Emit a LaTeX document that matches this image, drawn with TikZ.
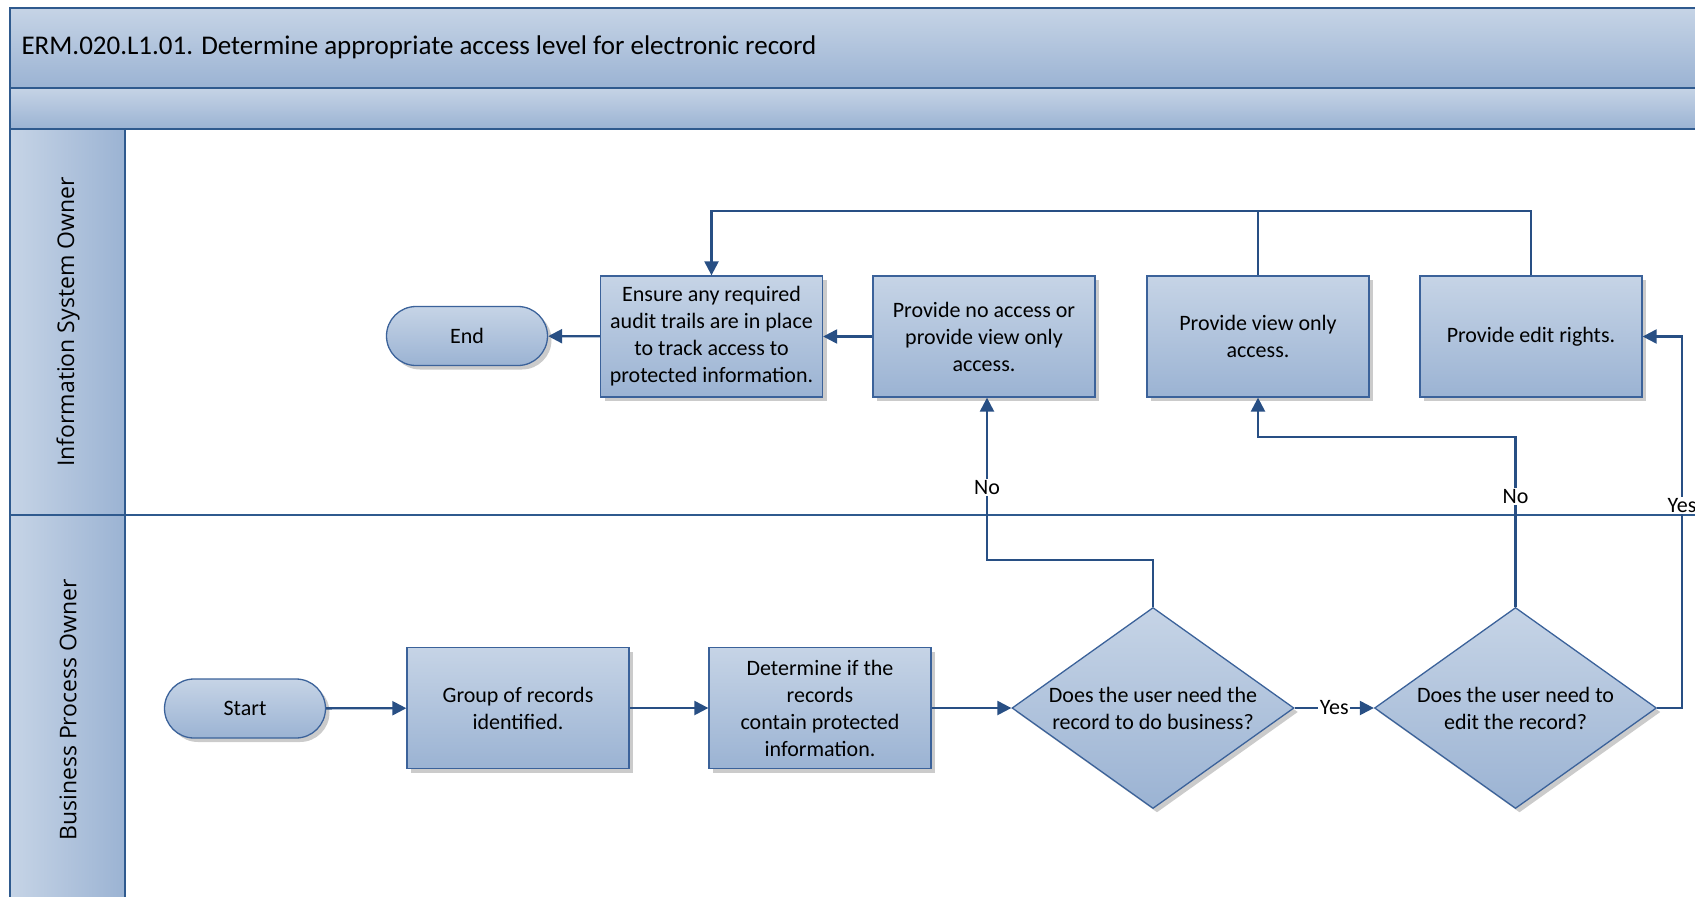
\documentclass[tikz,border=0pt]{standalone}
\usepackage{fontspec}
\setmainfont{Carlito}
\newfontfamily\lanefont{Open Sans}
\usetikzlibrary{arrows.meta,shapes.geometric,shadows}
\definecolor{fillTop}{HTML}{C6D4E6}
\definecolor{fillBot}{HTML}{9BB3D3}
\definecolor{edgeblue}{HTML}{3B629A}
\definecolor{wire}{HTML}{284F84}
\definecolor{frame}{HTML}{2F5A8E}

\begin{document}
\begin{tikzpicture}[x=1pt,y=-1pt,
  shapebase/.style={draw=edgeblue, line width=1.3pt, top color=fillTop, bottom color=fillBot,
    font=\fontsize{22}{27}\selectfont, align=center, inner sep=0pt,
    drop shadow={shadow xshift=4pt, shadow yshift=-4pt, fill=black!45, opacity=0.45}},
  process/.style={shapebase, rectangle, minimum width=222pt, minimum height=121pt},
  terminal/.style={shapebase, rectangle, rounded corners=29.5pt, minimum width=161pt, minimum height=59pt},
  decision/.style={shapebase, diamond, minimum width=282pt, minimum height=201pt},
  flow/.style={draw=wire, line width=2.3pt, -{Triangle[length=14pt,width=14pt]}},
  link/.style={draw=wire, line width=2.3pt},
  tag/.style={fill=white, inner sep=1.5pt, font=\fontsize{22}{24}\selectfont},
  qtext/.style={font=\fontsize{22}{27}\selectfont, align=center},
  band/.style={draw=frame, line width=2pt},
]
\useasboundingbox (0,0) rectangle (1695,897);
\clip (0,0) rectangle (1695,897);

% header bands and lane column
\path[band, top color=fillTop, bottom color=fillBot] (10,7.6) rectangle (1720,87.6);
\path[band, top color=fillTop, bottom color=fillBot] (10,87.6) rectangle (1720,128.6);
\path[band, left color=fillTop, right color=fillBot] (10,128.6) rectangle (125,920);
\draw[band] (10,514.5) -- (1720,514.5);

\node[anchor=west, font=\fontsize{27}{30}\selectfont] (title) at (18,47.6)
  {ERM.020.L1.01. Determine appropriate access level for electronic record};
\node[rotate=90, font=\lanefont\fontsize{23}{28}\selectfont] (lane1) at (68,322) {Information System Owner};
\node[rotate=90, font=\lanefont\fontsize{23}{28}\selectfont] (lane2) at (68,710) {Business Process Owner};

% shapes
\node[terminal] (endn) at (467,336) {End};
\node[process] (ensure) at (711.5,336.5) {Ensure any required\\audit trails are in place\\to track access to\\protected information.};
\node[process] (noacc) at (984,336.5) {Provide no access or\\provide view only\\access.};
\node[process] (view) at (1258,336.5) {Provide view only\\access.};
\node[process] (edit) at (1531,336.5) {Provide edit rights.};
\node[terminal] (start) at (245,708.5) {Start};
\node[process] (group) at (518,708) {Group of records\\identified.};
\node[process] (determine) at (820,708) {Determine if the\\records\\contain protected\\information.};
\node[decision, label={[qtext]center:{Does the user need the\\record to do business?}}] (q1) at (1153,708) {};
\node[decision, label={[qtext]center:{Does the user need to\\edit the record?}}] (q2) at (1515.5,708) {};

% routing levels
\coordinate (lvlA) at (0,560);
\coordinate (lvlB) at (0,437);
\coordinate (lvlTop) at (0,211);
\coordinate (colR) at (1682,0);

% connectors
\draw[flow] (start) -- (group);
\draw[flow] (group) -- (determine);
\draw[flow] (determine) -- (q1);
\draw[flow] (q1) -- node[tag] (yes1) {Yes} (q2);
\draw[flow] (q1.north) -- (q1.north |- lvlA) -| node[tag, pos=0.724] (no1) {No} ([xshift=3pt]noacc.south);
\draw[flow] (q2.north) -- node[tag, pos=0.65] (no2) {No} (q2.north |- lvlB) -| (view.south);
\draw[flow] (q2.east) -- (q2.east -| colR) -- node[tag, pos=0.546] (yes2) {Yes} (colR |- edit.east) -- (edit.east);
\draw[flow] (noacc) -- (ensure);
\draw[flow] (ensure) -- (endn);
\draw[link] (edit.north) -- (edit.north |- lvlTop) -- (view.north |- lvlTop);
\draw[flow] (view.north) -- (view.north |- lvlTop) -| (ensure.north);
\end{tikzpicture}
\end{document}
